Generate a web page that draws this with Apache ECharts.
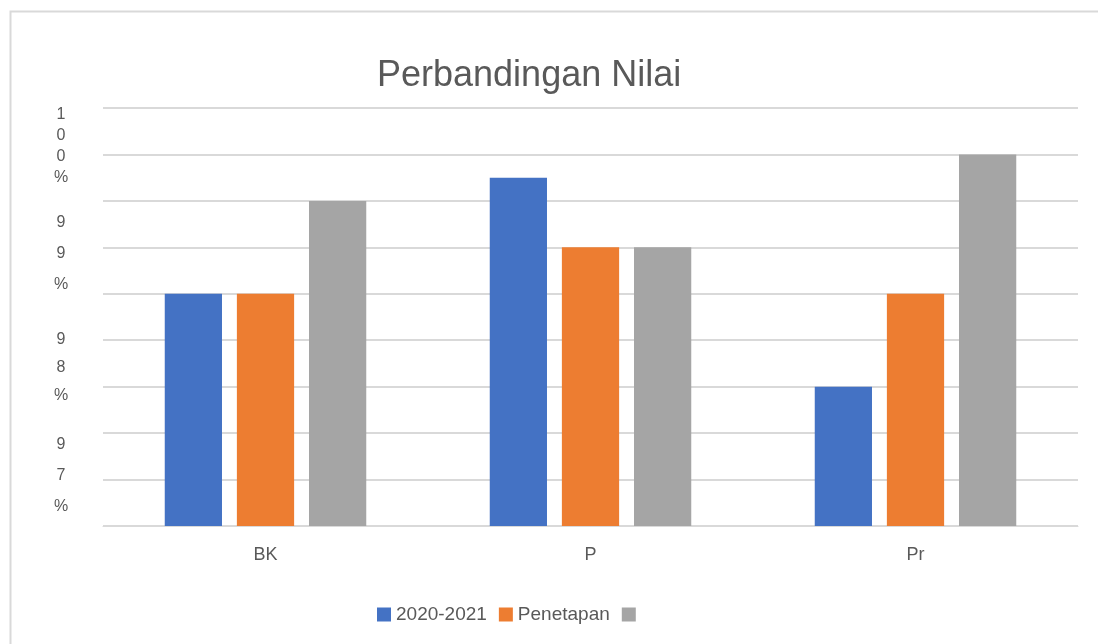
<!DOCTYPE html>
<html>
<head>
<meta charset="utf-8">
<script src="https://cdn.jsdelivr.net/npm/echarts@6/dist/echarts.min.js"></script>
<style>
  html, body { margin: 0; padding: 0; background: #ffffff; }
  #chart { width: 1098px; height: 644px; }
</style>
</head>
<body>
<div id="chart"></div>
<script>
// Categories and series values (percent)
const categories = ['BK', 'P', 'Pr'];
const seriesNames = ['2020-2021', 'Penetapan', ' '];
const seriesA = [98.5, 99.75, 97.5];
const seriesB = [98.5, 99.0, 98.5];
const seriesC = [99.5, 99.0, 100.0];

// Tick labels shown on the value axis (stacked one character per line)
const yTickLabels = { '100': '100%', '99': '99%', '97.5': '98%', '96.5': '97%' };

const colors = ['#4472C4', '#ED7D31', '#A5A5A5'];
const fontFamily = '"Liberation Sans", Arial, sans-serif';

// Per-label line spacing and spacer lines that nudge each stacked label
const yLabelStyle = {
  '100': { lh: 21, top: 0, bottom: 17 },
  '99': { lh: 31, top: 13, bottom: 0 },
  '97.5': { lh: 28, top: 0, bottom: 39 },
  '96.5': { lh: 31, top: 0, bottom: 8 }
};

const rich = {};
Object.keys(yLabelStyle).forEach((k, i) => {
  const s = yLabelStyle[k];
  rich['c' + i] = { fontFamily, fontSize: 16, color: '#595959', lineHeight: s.lh, align: 'center' };
  rich['t' + i] = { fontSize: 1, lineHeight: s.top || 1 };
  rich['b' + i] = { fontSize: 1, lineHeight: s.bottom || 1 };
});

const chart = echarts.init(document.getElementById('chart'), null, { renderer: 'canvas' });

const seriesData = [seriesA, seriesB, seriesC];

chart.setOption({
  animation: false,
  backgroundColor: '#ffffff',
  color: colors,
  title: {
    text: 'Perbandingan Nilai',
    left: 372,
    top: 53,
    textStyle: { fontFamily, fontSize: 36, fontWeight: 'normal', color: '#595959' }
  },
  legend: {
    data: seriesNames,
    left: 372,
    top: 600,
    itemWidth: 14,
    itemHeight: 14,
    itemGap: 12,
    icon: 'rect',
    textStyle: { fontFamily, fontSize: 19, color: '#595959' }
  },
  grid: { left: 103, right: 20, top: 108, bottom: 118, containLabel: false },
  xAxis: {
    type: 'category',
    data: categories,
    axisLine: { show: true, lineStyle: { color: '#d9d9d9', width: 1 } },
    axisTick: { show: false },
    axisLabel: { fontFamily, fontSize: 18, color: '#595959', margin: 20 }
  },
  yAxis: {
    type: 'value',
    min: 96,
    max: 100.5,
    interval: 0.5,
    axisLine: { show: false },
    axisTick: { show: false },
    splitLine: { lineStyle: { color: '#d9d9d9', width: 2 } },
    axisLabel: {
      margin: 42,
      align: 'center',
      rich,
      formatter: function (v) {
        const key = String(Math.round(v * 100) / 100);
        const t = yTickLabels[key];
        if (!t) return '';
        const i = Object.keys(yLabelStyle).indexOf(key);
        const s = yLabelStyle[key];
        const lines = t.split('').map(ch => '{c' + i + '|' + ch + '}');
        if (s.top) lines.unshift('{t' + i + '| }');
        if (s.bottom) lines.push('{b' + i + '| }');
        return lines.join('\n');
      }
    }
  },
  series: seriesData.map((d, i) => ({
    name: seriesNames[i],
    type: 'bar',
    data: d,
    barGap: '26%',
    barCategoryGap: '38%',
    itemStyle: { color: colors[i] }
  })),
  graphic: [
    {
      type: 'rect',
      left: 8, top: 9,
      shape: { width: 1200, height: 700 },
      style: { fill: 'none', stroke: '#d9d9d9', lineWidth: 2 },
      silent: true, z: -1
    }
  ]
});
</script>
</body>
</html>
